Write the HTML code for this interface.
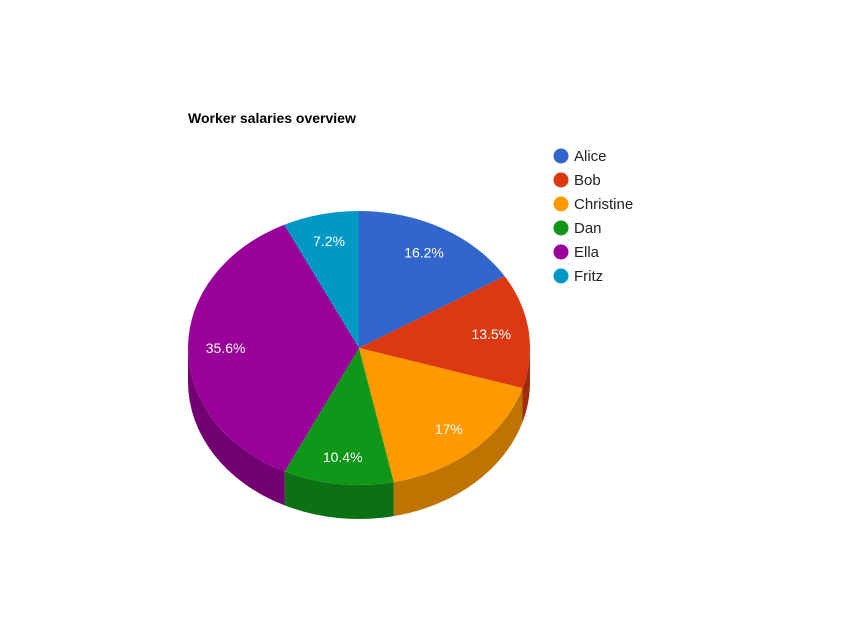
<!DOCTYPE html>
<html><head><meta charset="utf-8">
<style>
html,body{margin:0;padding:0;background:#fff;}
body{width:862px;height:629px;overflow:hidden;font-family:"Liberation Sans",Arial,sans-serif;}
</style></head>
<body>
<svg id="chart" width="862" height="629" xmlns="http://www.w3.org/2000/svg">
<rect width="862" height="629" fill="#fff"/>
<text x="188" y="123" font-size="14" font-weight="bold" fill="#000">Worker salaries overview</text>
<g id="sides"></g><g id="tops"></g><g id="labels"></g><g id="legend"></g>
</svg>
<script>
const categories = ["Alice","Bob","Christine","Dan","Ella","Fritz"];
const values = [16.2,13.5,17,10.4,35.6,7.2];
const colors = ["#3366cc","#dc3912","#ff9900","#109618","#990099","#0099c6"];
const darkColors = ["#264d99","#a52b0e","#bf7300","#0c7112","#730073","#007395"];

const NS="http://www.w3.org/2000/svg";
const cx=359, cy=348, rx=171, ry=137, depth=34;
const total=values.reduce((a,b)=>a+b,0);
function pt(deg,dy){const r=deg*Math.PI/180;return [cx+rx*Math.sin(r), cy-ry*Math.cos(r)+(dy||0)];}
function mk(tag,attrs){const e=document.createElementNS(NS,tag);for(const k in attrs)e.setAttribute(k,attrs[k]);return e;}
const sides=document.getElementById('sides'), tops=document.getElementById('tops'), labels=document.getElementById('labels'), legend=document.getElementById('legend');
let acc=0;
values.forEach((v,i)=>{
  const a1=acc/total*360, a2=(acc+v)/total*360; acc+=v;
  const s=Math.max(a1,90), e=Math.min(a2,270);
  if(e>s){
    const p1=pt(s),p2=pt(e),p3=pt(e,depth),p4=pt(s,depth);
    const d=`M${p1[0]},${p1[1]} A${rx},${ry} 0 0 1 ${p2[0]},${p2[1]} L${p3[0]},${p3[1]} A${rx},${ry} 0 0 0 ${p4[0]},${p4[1]} Z`;
    const side=mk('path',{d:d,fill:darkColors[i]});
    
    
    sides.appendChild(side);
  }
  const p1=pt(a1),p2=pt(a2);
  const large=(a2-a1)>180?1:0;
  const top=mk('path',{d:`M${cx},${cy} L${p1[0]},${p1[1]} A${rx},${ry} 0 ${large} 1 ${p2[0]},${p2[1]} Z`,fill:colors[i]});
  
  
  tops.appendChild(top);
  const mid=(a1+a2)/2, r=mid*Math.PI/180;
  const lx=cx+rx*0.78*Math.sin(r), ly=cy-ry*0.8*Math.cos(r);
  const t=mk('text',{x:lx,y:ly+5,'text-anchor':'middle','font-size':'14',fill:'#fff'});
  t.textContent=(Math.round(v/total*1000)/10)+'%';
  
  
  labels.appendChild(t);
  const g=mk('g',{});
  
  
  const y=156+i*24;
  g.appendChild(mk('circle',{cx:561,cy:y,r:7.5,fill:colors[i]}));
  const lt=mk('text',{x:574,y:y+5,'font-size':'15',fill:'#222'});
  lt.textContent=categories[i];
  g.appendChild(lt);
  legend.appendChild(g);
});
</script>
</body></html>
